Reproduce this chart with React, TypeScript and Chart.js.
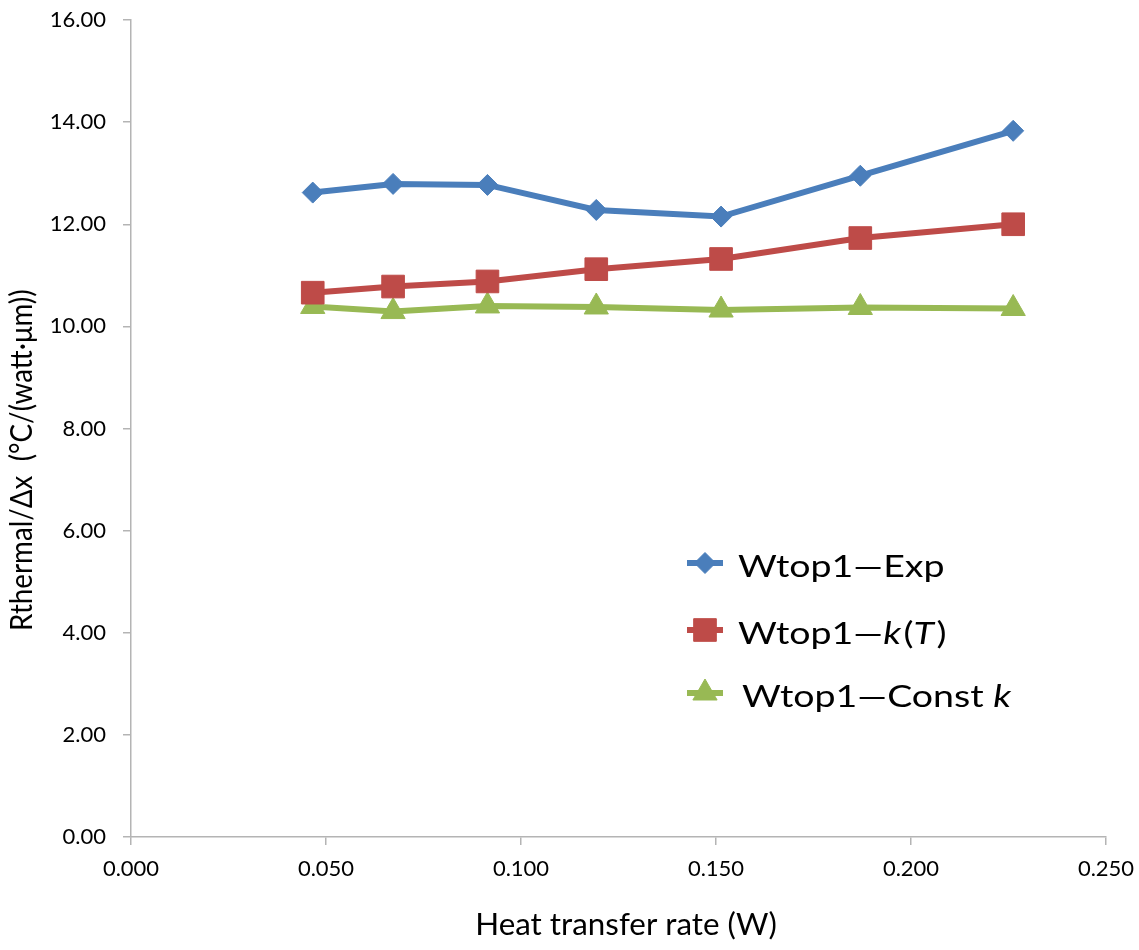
import React, { useEffect, useRef } from 'react';
import { Chart, registerables } from 'chart.js';
import { drawPoint } from 'chart.js/helpers';

Chart.register(...registerables);

// ---- data ----
const heatRate = [0.0466, 0.0672, 0.0914, 0.1193, 0.1513, 0.187, 0.2262];
const expValues = [12.62, 12.79, 12.77, 12.28, 12.15, 12.95, 13.83];
const kTValues = [10.66, 10.78, 10.88, 11.12, 11.32, 11.73, 12.0];
const constKValues = [10.39, 10.29, 10.4, 10.38, 10.32, 10.37, 10.35];

const seriesNames = ['Wtop1—Exp', 'Wtop1—k(T)', 'Wtop1—Const k'];
// legend label segments: [text, italic]
const legendSegments: [string, boolean][][] = [
  [['Wtop1—Exp', false]],
  [['Wtop1—', false], ['k', true], ['(', false], ['T', true], [')', false]],
  [['Wtop1—Const ', false], ['k', true]],
];
const xTitle = 'Heat transfer rate (W)';
const yTitle = 'Rthermal/Δx  (°C/(watt·μm))';

const xTickMin = 0;
const xTickMax = 0.25;
const xTickStep = 0.05;
const yTickMin = 0;
const yTickMax = 16;
const yTickStep = 2;

const colors = ['#4A7EBB', '#BE4B48', '#98B954'];
const pointStyles = ['rectRot', 'rect', 'triangle'];
const pointRadii = [10.5, 16, 14];

const FONT = 'Lato, "Open Sans", sans-serif';
const AXIS_COLOR = '#b4b4b4';

function drawSegments(ctx: CanvasRenderingContext2D, segs: [string, boolean][], x: number, y: number, size: number, sx: number) {
  ctx.save();
  ctx.translate(x, y);
  ctx.scale(sx, 1);
  let cx = 0;
  for (const [t, it] of segs) {
    ctx.font = `${it ? 'italic ' : ''}${size}px ${FONT}`;
    ctx.fillText(t, cx, 0);
    cx += ctx.measureText(t).width + (it ? 2 : 0);
  }
  ctx.restore();
}

const annotationPlugin = {
  id: 'customText',
  afterDraw(chart: any) {
    const ctx: CanvasRenderingContext2D = chart.ctx;
    ctx.save();
    ctx.fillStyle = '#000';
    ctx.textBaseline = 'alphabetic';

    // x title
    ctx.save();
    ctx.translate(626, 935);
    ctx.scale(1.045, 1);
    ctx.textAlign = 'center';
    ctx.font = `30px ${FONT}`;
    ctx.fillText(xTitle, 0, 0);
    ctx.restore();

    // y title
    ctx.save();
    ctx.translate(32, 631);
    ctx.rotate(-Math.PI / 2);
    ctx.scale(0.925, 1);
    ctx.textAlign = 'left';
    ctx.font = `30px ${FONT}`;
    ctx.fillText(yTitle, 0, 0);
    ctx.restore();

    // legend
    const rowY = [563, 630, 693];
    ctx.textAlign = 'left';
    chart.data.datasets.forEach((ds: any, i: number) => {
      const cy = rowY[i];
      ctx.save();
      ctx.strokeStyle = colors[i];
      ctx.lineWidth = 6;
      ctx.beginPath();
      ctx.moveTo(687, cy);
      ctx.lineTo(723, cy);
      ctx.stroke();
      ctx.fillStyle = colors[i];
      ctx.lineWidth = 1;
      drawPoint(ctx, { pointStyle: pointStyles[i], radius: pointRadii[i], borderWidth: 1, rotation: 0 } as any, 705, cy);
      ctx.restore();
      ctx.fillStyle = '#000';
      drawSegments(ctx, legendSegments[i], i === 2 ? 742 : 738, cy + 13.5, 30, 1.25);
    });
    ctx.restore();
  },
};

export default function App() {
  const canvasRef = useRef<HTMLCanvasElement | null>(null);

  useEffect(() => {
    document.body.style.margin = '0';
    const canvas = canvasRef.current;
    if (!canvas) return;
    const valueSets = [expValues, kTValues, constKValues];
    const chart = new Chart(canvas, {
      type: 'line',
      data: {
        datasets: valueSets.map((vals, i) => ({
          label: seriesNames[i],
          data: heatRate.map((x, j) => ({ x, y: vals[j] })),
          borderColor: colors[i],
          backgroundColor: colors[i],
          borderWidth: 6,
          pointStyle: pointStyles[i] as any,
          pointRadius: pointRadii[i],
          pointHoverRadius: pointRadii[i],
          pointBackgroundColor: colors[i],
          pointBorderColor: colors[i],
          pointBorderWidth: 1,
          tension: 0,
          fill: false,
        })),
      },
      options: {
        animation: false,
        responsive: true,
        maintainAspectRatio: false,
        layout: { padding: { top: 20, right: 33, left: 0, bottom: 0 } },
        plugins: {
          legend: { display: false },
          tooltip: { enabled: false },
        },
        scales: {
          x: {
            type: 'linear',
            min: xTickMin,
            max: xTickMax,
            ticks: {
              stepSize: xTickStep,
              callback: (v: any) => Number(v).toFixed(3),
              font: { family: FONT, size: 22 },
              color: '#000',
              padding: 11,
              maxRotation: 0,
            },
            grid: { display: true, drawOnChartArea: false, drawTicks: true, tickLength: 8, color: AXIS_COLOR, lineWidth: 1.5 },
            border: { display: true, color: AXIS_COLOR, width: 1.5 },
            afterFit: (s: any) => {
              s.height = 113;
              s.paddingLeft = 0;
              s.paddingRight = 0;
            },
          },
          y: {
            type: 'linear',
            min: yTickMin,
            max: yTickMax,
            ticks: {
              stepSize: yTickStep,
              callback: (v: any) => Number(v).toFixed(2),
              font: { family: FONT, size: 22 },
              color: '#000',
              padding: 17,
            },
            grid: { display: true, drawOnChartArea: false, drawTicks: true, tickLength: 8, color: AXIS_COLOR, lineWidth: 1.5 },
            border: { display: true, color: AXIS_COLOR, width: 1.5 },
            afterFit: (s: any) => {
              s.width = 131;
              s.paddingTop = 0;
              s.paddingBottom = 0;
            },
          },
        },
      },
      plugins: [annotationPlugin],
    });
    return () => chart.destroy();
  }, []);

  return (
    <div style={{ width: 1139, height: 950, position: 'relative', background: '#fff' }}>
      <canvas ref={canvasRef} />
    </div>
  );
}
